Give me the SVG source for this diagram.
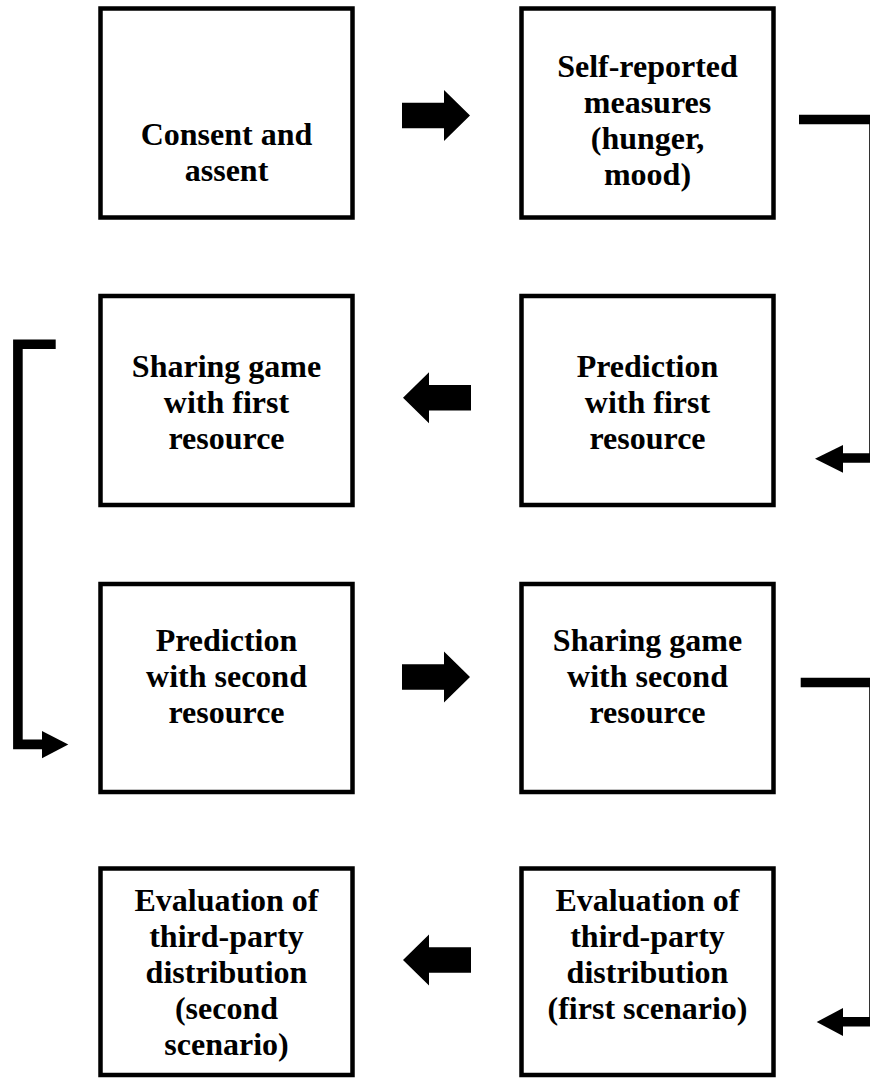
<svg xmlns="http://www.w3.org/2000/svg" xmlns:xlink="http://www.w3.org/1999/xlink" width="870" height="1078" viewBox="0 0 870 1078">
<style>
.box{fill:#fff;stroke:#000;stroke-width:4.5}
.t{font-family:"Liberation Serif","Times New Roman",serif;font-weight:bold;font-size:32px;text-anchor:middle;fill:#000}
.con{fill:none;stroke:#000;stroke-width:9.6;stroke-linejoin:miter}
.head{fill:#000}
</style>
<defs>
<polygon id="blk" points="0,-12.75 42,-12.75 42,-25.5 68,0 42,25.5 42,12.75 0,12.75" fill="#000"/>
</defs>
<rect width="870" height="1078" fill="#fff"/>
<g id="connectors">
<use xlink:href="#blk" transform="translate(402,115.5)"/>
<use xlink:href="#blk" transform="translate(471,397.7) scale(-1,1)"/>
<use xlink:href="#blk" transform="translate(402,677)"/>
<use xlink:href="#blk" transform="translate(471,960) scale(-1,1)"/>
<path class="con" d="M799,119.5 H874 V458 H843"/>
<polygon class="head" points="843,445 843,472.7 815,458.8"/>
<path class="con" d="M55.7,344.2 H17.9 V744.4 H42"/>
<polygon class="head" points="42,731 42,758.3 68.3,744.6"/>
<path class="con" d="M800.7,682.5 H874 V1021.7 H843"/>
<polygon class="head" points="843,1008 843,1036 816.7,1022"/>
</g>
<g id="n1"><rect class="box" x="100.5" y="8.5" width="252" height="209"/>
<text class="t" x="226.5" y="145">Consent and</text><text class="t" x="226.5" y="181">assent</text></g>
<g id="n2"><rect class="box" x="521.5" y="8.5" width="252" height="209"/>
<text class="t" x="647.5" y="77">Self-reported</text><text class="t" x="647.5" y="113">measures</text><text class="t" x="647.5" y="149">(hunger,</text><text class="t" x="647.5" y="185">mood)</text></g>
<g id="n3"><rect class="box" x="100.5" y="296" width="252" height="209"/>
<text class="t" x="226.5" y="377">Sharing game</text><text class="t" x="226.5" y="413">with first</text><text class="t" x="226.5" y="449">resource</text></g>
<g id="n4"><rect class="box" x="521.5" y="296" width="252" height="209"/>
<text class="t" x="647.5" y="377">Prediction</text><text class="t" x="647.5" y="413">with first</text><text class="t" x="647.5" y="449">resource</text></g>
<g id="n5"><rect class="box" x="100.5" y="584" width="252" height="208"/>
<text class="t" x="226.5" y="651">Prediction</text><text class="t" x="226.5" y="687">with second</text><text class="t" x="226.5" y="723">resource</text></g>
<g id="n6"><rect class="box" x="521.5" y="584" width="252" height="208"/>
<text class="t" x="647.5" y="651">Sharing game</text><text class="t" x="647.5" y="687">with second</text><text class="t" x="647.5" y="723">resource</text></g>
<g id="n7"><rect class="box" x="100.5" y="868.5" width="252" height="206.5"/>
<text class="t" x="226.5" y="911">Evaluation of</text><text class="t" x="226.5" y="947">third-party</text><text class="t" x="226.5" y="983">distribution</text><text class="t" x="226.5" y="1019">(second</text><text class="t" x="226.5" y="1055">scenario)</text></g>
<g id="n8"><rect class="box" x="521.5" y="868.5" width="252" height="206.5"/>
<text class="t" x="647.5" y="911">Evaluation of</text><text class="t" x="647.5" y="947">third-party</text><text class="t" x="647.5" y="983">distribution</text><text class="t" x="647.5" y="1019">(first scenario)</text></g>
</svg>
